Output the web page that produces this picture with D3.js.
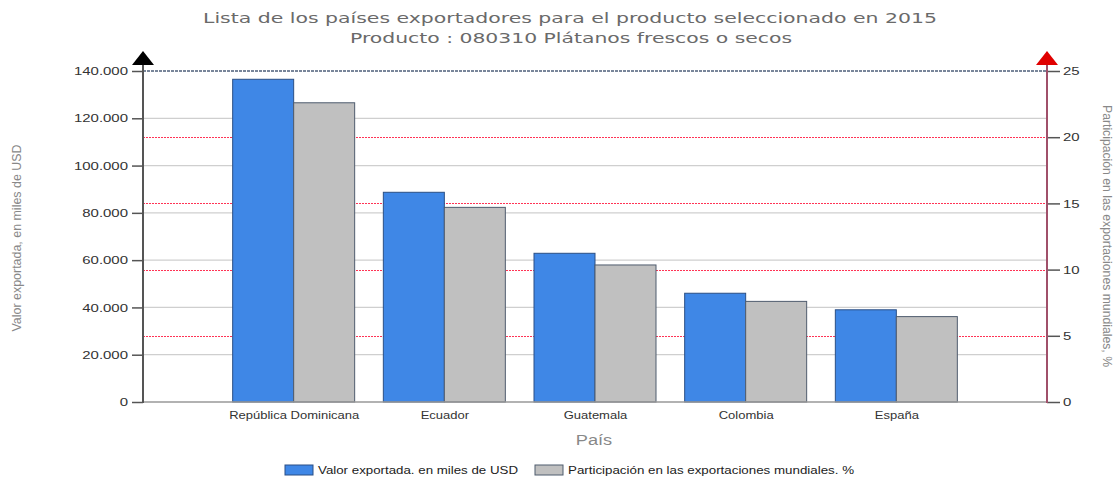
<!DOCTYPE html>
<html><head><meta charset="utf-8">
<script src="https://cdn.jsdelivr.net/npm/d3@7"></script>
<style>body{margin:0;background:#fff}svg{display:block}</style>
</head><body>
<svg id="chart" width="1118" height="479"></svg>
<script>
const countries = ["República Dominicana","Ecuador","Guatemala","Colombia","España"];
const valorExportada = [136500, 88700, 62900, 46000, 39000];
const participacion = [22.6, 14.7, 10.35, 7.6, 6.45];
const leftTicks = [0,20000,40000,60000,80000,100000,120000,140000];
const rightTicks = [0,5,10,15,20,25];
const seriesNames = ["Valor exportada. en miles de USD","Participación en las exportaciones mundiales. %"];
const titleText = "Lista de los países exportadores para el producto seleccionado en 2015";
const subtitleText = "Producto : 080310 Plátanos frescos o secos";

const K = 1.3;
const svg = d3.select("#chart");
const L = 143, R = 1047, B = 402, T = 71;
const yL = d3.scaleLinear().domain([0,140000]).range([B,T]);
const yR = d3.scaleLinear().domain([0,25]).range([B,T]);
const x = d3.scalePoint().domain(countries).range([L,R]).padding(1);
const sub = d3.scaleBand().domain(["v","p"]).range([-61,61]);
const loc = d3.formatLocale({thousands:".", grouping:[3], decimal:",", currency:["",""]});
const fmt = loc.format(",");
const font = "Arial, 'Liberation Sans', sans-serif";

function stretch(sel,k){ sel.each(function(){ const w=this.getComputedTextLength(); this.setAttribute("textLength", w*k); this.setAttribute("lengthAdjust","spacingAndGlyphs"); }); }

// gridlines
svg.append("g").selectAll("line").data(leftTicks.filter(d=>d>0&&d<140000)).join("line")
  .attr("x1",L).attr("x2",R).attr("y1",d=>yL(d)).attr("y2",d=>yL(d))
  .attr("stroke","#cfcfcf").attr("stroke-width",1.2);
svg.append("g").selectAll("line").data(rightTicks.filter(d=>d>0&&d<25)).join("line")
  .attr("x1",L).attr("x2",R).attr("y1",d=>Math.round(yR(d))+0.5).attr("y2",d=>Math.round(yR(d))+0.5)
  .attr("stroke","#ff3355").attr("stroke-width",1).attr("stroke-dasharray","2,1");
// top line
svg.append("line").attr("x1",L).attr("x2",R).attr("y1",yL(140000)).attr("y2",yL(140000))
  .attr("stroke","#4d5f7a").attr("stroke-width",1.5).attr("stroke-dasharray","3,1");

// bars
const g = svg.append("g");
g.selectAll("rect.v").data(countries).join("rect").attr("class","v")
  .attr("x",d=>x(d)+sub("v")).attr("width",sub.bandwidth())
  .attr("y",(d,i)=>yL(valorExportada[i])).attr("height",(d,i)=>B-yL(valorExportada[i]))
  .attr("fill","#3f87e6").attr("stroke","#2b4f85").attr("stroke-width",1);
g.selectAll("rect.p").data(countries).join("rect").attr("class","p")
  .attr("x",d=>x(d)+sub("p")).attr("width",sub.bandwidth())
  .attr("y",(d,i)=>yR(participacion[i])).attr("height",(d,i)=>B-yR(participacion[i]))
  .attr("fill","#c0c0c0").attr("stroke","#4f5c6e").attr("stroke-width",1);

// baseline
svg.append("line").attr("x1",L).attr("x2",R).attr("y1",B).attr("y2",B).attr("stroke","#999").attr("stroke-width",1.5);

// left axis
const ga = svg.append("g").attr("transform",`translate(${L},0)`)
  .call(d3.axisLeft(yL).tickValues(leftTicks).tickFormat(fmt).tickSize(11).tickPadding(4));
ga.select(".domain").remove();
ga.selectAll("line").attr("stroke","#555").attr("stroke-width",1.5);
ga.selectAll("text").attr("font-family",font).attr("font-size",11.5).attr("fill","#333");
stretch(ga.selectAll("text"),K);
svg.append("line").attr("x1",L).attr("x2",L).attr("y1",B+1).attr("y2",62).attr("stroke","#555").attr("stroke-width",2);
svg.append("path").attr("d",`M${L-11},65 L${L+11},65 L${L},51 Z`).attr("fill","#000");

// right axis
const gr = svg.append("g").attr("transform",`translate(${R},0)`)
  .call(d3.axisRight(yR).tickValues(rightTicks).tickSize(13).tickPadding(3));
gr.select(".domain").remove();
gr.selectAll("line").attr("stroke","#555").attr("stroke-width",1.5);
gr.selectAll("text").attr("font-family",font).attr("font-size",11.5).attr("fill","#333");
stretch(gr.selectAll("text"),K);
svg.append("line").attr("x1",R).attr("x2",R).attr("y1",B+1).attr("y2",62).attr("stroke","#a0506a").attr("stroke-width",2);
svg.append("path").attr("d",`M${R-11},65 L${R+11},65 L${R},51 Z`).attr("fill","#e00000");

// x axis labels
const gx = svg.append("g").attr("transform",`translate(0,${B})`)
  .call(d3.axisBottom(x).tickSize(0).tickPadding(10));
gx.select(".domain").remove();
gx.selectAll("text").attr("font-family",font).attr("font-size",10).attr("fill","#333");
stretch(gx.selectAll("text"),K);

const px = svg.append("text").attr("x",594).attr("y",445).attr("text-anchor","middle")
  .attr("font-family",font).attr("font-size",14).attr("fill","#888").text("País");
stretch(px,K);

// axis titles
svg.append("text").attr("transform","translate(21,238) rotate(-90)").attr("text-anchor","middle")
  .attr("font-family",font).attr("font-size",12.5).attr("fill","#888")
  .attr("textLength",187).attr("lengthAdjust","spacingAndGlyphs").text("Valor exportada, en miles de USD");
svg.append("text").attr("transform","translate(1103,236) rotate(90)").attr("text-anchor","middle")
  .attr("font-family",font).attr("font-size",12.5).attr("fill","#888")
  .attr("textLength",262).attr("lengthAdjust","spacingAndGlyphs").text("Participación en las exportaciones mundiales, %");

// title
svg.append("text").attr("x",570).attr("y",23).attr("text-anchor","middle")
  .attr("font-family","'DejaVu Sans', Verdana, sans-serif").attr("font-size",14.5).attr("fill","#6a6a6a")
  .attr("textLength",734).attr("lengthAdjust","spacingAndGlyphs").text(titleText);
svg.append("text").attr("x",571).attr("y",43).attr("text-anchor","middle")
  .attr("font-family","'DejaVu Sans', Verdana, sans-serif").attr("font-size",14.5).attr("fill","#6a6a6a")
  .attr("textLength",442).attr("lengthAdjust","spacingAndGlyphs").text(subtitleText);

// legend
const legX = [285, 535], legW = [200, 286];
const legFill = ["#3f87e6","#c0c0c0"], legStroke = ["#2b4f85","#4f5c6e"];
const lg = svg.append("g").selectAll("g").data(seriesNames).join("g");
lg.append("rect").attr("x",(d,i)=>legX[i]).attr("y",465).attr("width",28).attr("height",10)
  .attr("fill",(d,i)=>legFill[i]).attr("stroke",(d,i)=>legStroke[i]);
lg.append("text").attr("x",(d,i)=>legX[i]+33).attr("y",474)
  .attr("font-family",font).attr("font-size",11).attr("fill","#222")
  .attr("textLength",(d,i)=>legW[i]).attr("lengthAdjust","spacingAndGlyphs").text(d=>d);
</script>
</body></html>
